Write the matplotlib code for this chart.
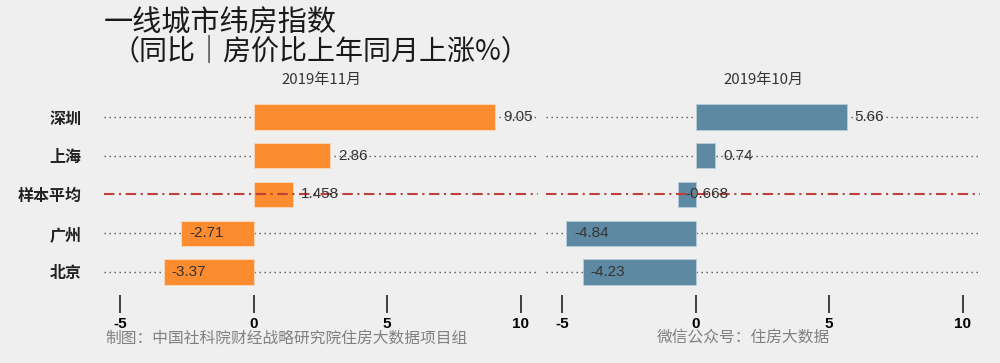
import matplotlib
matplotlib.use("Agg")
import matplotlib.pyplot as plt

plt.rcParams['font.family'] = ['Noto Sans CJK SC', 'DejaVu Sans']

cities = ['深圳', '上海', '样本平均', '广州', '北京']
nov_values = [9.05, 2.86, 1.458, -2.71, -3.37]
oct_values = [5.66, 0.74, -0.668, -4.84, -4.23]
panel_titles = ['2019年11月', '2019年10月']
xticks = [-5, 0, 5, 10]

bg = '#efefef'
fig = plt.figure(figsize=(10, 3.63), dpi=100, facecolor=bg)

ypos = list(range(len(cities)))[::-1]  # 深圳 on top
avg_idx = cities.index('样本平均')

panels = [
    (0.104, nov_values, '#fd8b2f', panel_titles[0]),
    (0.546, oct_values, '#5d89a3', panel_titles[1]),
]

for i, (left, vals, color, title) in enumerate(panels):
    ax = fig.add_axes([left, 0.1873, 0.434, 0.551])
    ax.set_facecolor(bg)
    ax.set_xlim(-5.6, 10.65)
    ax.set_ylim(-0.594, 4.568)

    # dotted guide lines (dash-dot red for sample average)
    for j, y in enumerate(ypos):
        if j == avg_idx:
            continue
        ax.axhline(y, color='#555555', lw=1.0, ls=(0, (1, 2.6)), zorder=1)

    ax.barh(ypos, vals, height=0.65, color=color, edgecolor='#f7d9bd' if i == 0 else '#b9cdd9',
            linewidth=0.6, zorder=2)
    ax.axhline(ypos[avg_idx], color='#bf3f3a', lw=1.5, ls=(0, (5, 2.2, 1, 2.2)), zorder=3)

    for y, v in zip(ypos, vals):
        ax.text(v + 0.3, y, f'{v:g}', ha='left', va='center', fontsize=11,
                color='#333333', family=['Liberation Sans', 'DejaVu Sans'], zorder=4)

    for s in ax.spines.values():
        s.set_visible(False)
    ax.set_xticks(xticks)
    ax.set_xticklabels([str(t) for t in xticks], fontsize=11, fontweight='bold',
                       family=['Liberation Sans', 'DejaVu Sans'])
    ax.tick_params(axis='x', length=13, width=1.2, color='#222222', pad=3, direction='out')
    ax.set_yticks(ypos)
    if i == 0:
        ax.set_yticklabels(cities, fontsize=11.5, fontweight='bold', color='#222222')
        ax.tick_params(axis='y', length=0, pad=16)
    else:
        ax.set_yticklabels([])
        ax.tick_params(axis='y', length=0)

    fig.text(left + 0.217, 1 - 80 / 363, title, ha='center', va='center', fontsize=10.8, color='#333333')

fig.text(0.104, 1 - 24 / 363, '一线城市纬房指数', ha='left', va='center', fontsize=21, color='#1a1a1a')
fig.text(0.112, 1 - 52 / 363, '（同比｜房价比上年同月上涨%）', ha='left', va='center', fontsize=20.2,
         color='#1a1a1a')

fig.text(0.105, 1 - 338 / 363, '制图：中国社科院财经战略研究院住房大数据项目组', ha='left', va='center',
         fontsize=11.3, color='#808080')
fig.text(0.657, 1 - 338 / 363, '微信公众号：住房大数据', ha='left', va='center',
         fontsize=11.3, color='#808080')

fig.savefig('out.png', dpi=100, facecolor=bg)
